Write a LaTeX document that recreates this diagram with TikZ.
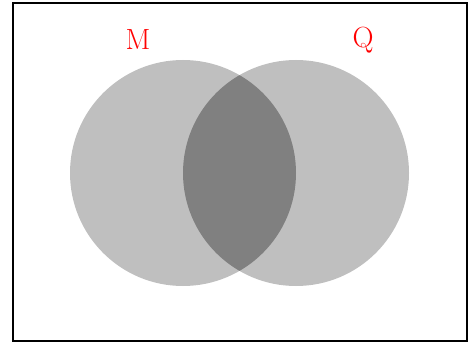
\documentclass[tikz,border=0pt]{standalone}
\usetikzlibrary{positioning}
\begin{document}
\begin{tikzpicture}
    % Style definition for the sets
    \tikzset{setdisk/.style={circle, minimum size=5.65cm, inner sep=0pt, fill=black!25},
             setname/.style={text=red, font=\huge}}
    \tikzstyle{frame} = [draw=black, line width=1pt]

    \useasboundingbox (0,0) rectangle (11.9,8.6);

    % Universe
    \node (U) [frame, minimum width=11.35cm, minimum height=8.45cm, inner sep=0pt] at (6,4.3) {};

    % The two sets
    \node (M) [setdisk] at (4.575,4.275) {};
    \node (Q) [setdisk] at (7.4,4.275) {};

    % Intersection
    \begin{scope}
        \clip (M.center) circle (2.825cm);
        \fill [black!50] (Q.center) circle (2.825cm);
    \end{scope}

    % Names of the sets
    \node (labM) [setname] at (3.45,7.6) {M};
    \node (labQ) [setname] at (9.075,7.6) {Q};
\end{tikzpicture}
\end{document}
